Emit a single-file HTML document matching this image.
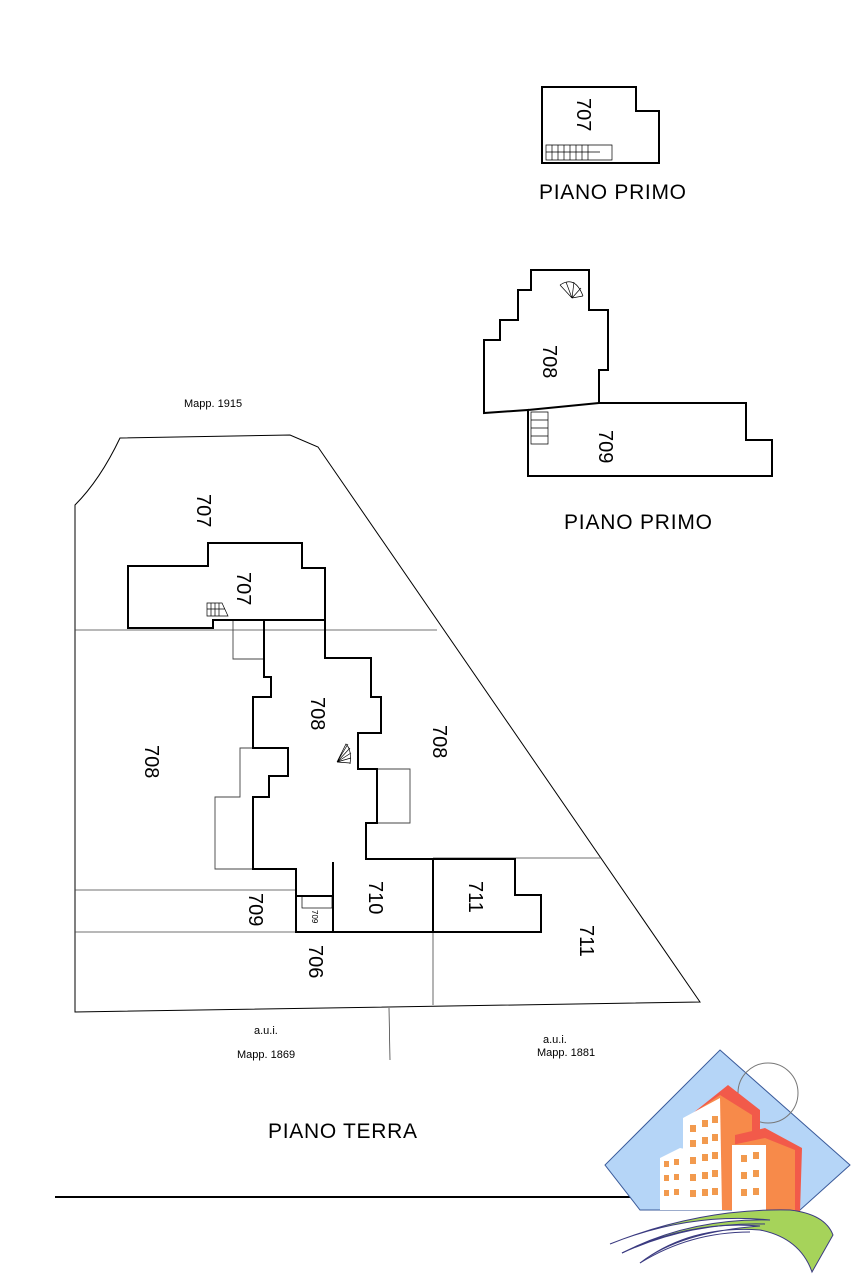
<!DOCTYPE html>
<html><head><meta charset="utf-8"><style>
html,body{margin:0;padding:0;background:#fff}
svg{display:block}
text{font-family:"Liberation Sans",Arial,sans-serif;fill:#000}
</style></head><body>
<svg width="853" height="1280" viewBox="0 0 853 1280" xmlns="http://www.w3.org/2000/svg">
<g fill="none" stroke="#000">
<path d="M75,1012 L75,505 Q100,480 120,438 L290,435 L318,447 L700,1002 Z" stroke-width="1"/>
<path d="M75,630 L437,630 M433,858 L601,858 M75,890 L296,890 M75,932 L296,932 M433,932 L433,1005 M389,1008 L390,1060" stroke-width="0.8" stroke="#444"/>
<path d="M233,620 L233,659 L264,659 M264,748 L240,748 L240,797 L215,797 L215,869 L253,869 M377,769 L410,769 L410,823 L377,823" stroke-width="0.9" stroke="#444"/>
<path d="M128,628 L128,566 L208,566 L208,543 L302,543 L302,568 L325,568 L325,620 L213,620 L213,628 Z" stroke-width="2"/>
<path d="M264,620 L264,677 L271,677 L271,697 L253,697 L253,748 L288,748 L288,776 L269,776 L269,797 L253,797 L253,869 L296,869 L296,932 L433,932 M325,620 L325,658 L371,658 L371,697 L381,697 L381,733 L358,733 L358,769 L377,769 L377,823 L366,823 L366,859 L515,859 L515,895 L541,895 L541,932 L433,932 M333,862 L333,932 M433,859 L433,932 M296,896 L333,896" stroke-width="2"/>
<rect x="302" y="896" width="30" height="12" stroke-width="0.7"/>
<path d="M207,603 L222,603 L228,616 L207,616 Z M211,603 L211,616 M215,603 L215,616 M219,603 L219,616 M207,609 L225,609" stroke-width="0.7"/>
<path d="M337,762 L348,744 M337,762 L350,748 M337,762 L351,753 M337,762 L351,758 M337,762 L350,763 M337,762 L346,744 Q352,750 350,764" stroke-width="0.7"/>
<path d="M542,87 L636,87 L636,111 L659,111 L659,163 L542,163 Z" stroke-width="2"/>
<path d="M546,145 L612,145 L612,160 L546,160 Z M552,145 L552,160 M558,145 L558,160 M564,145 L564,160 M570,145 L570,160 M576,145 L576,160 M582,145 L582,160 M588,145 L588,160 M546,152 L600,152" stroke-width="0.7"/>
<path d="M531,270 L589,270 L589,310 L608,310 L608,370 L599,370 L599,403 L746,403 L746,440 L772,440 L772,476 L528,476 L528,410 L484,413 L484,340 L500,340 L500,320 L518,320 L518,290 L531,290 Z M528,410 L599,403" stroke-width="2"/>
<path d="M531,412 L548,412 L548,444 L531,444 Z M531,420 L548,420 M531,428 L548,428 M531,436 L548,436" stroke-width="0.7"/>
<path d="M572,298 L560,285 M572,298 L566,282 M572,298 L574,282 M572,298 L581,288 M572,298 L583,296 M560,285 Q575,275 583,296" stroke-width="0.7"/>
<path d="M55,1197 L795,1197" stroke-width="2"/>
</g>
<!-- logo -->
<polygon points="720,1050 850,1165 800,1210 640,1210 605,1165" fill="#b5d5f7" stroke="#3a5a9a" stroke-width="1"/>
<circle cx="768" cy="1093" r="30" fill="none" stroke="#777" stroke-width="1"/>
<polygon points="693,1113 728,1085 760,1110 760,1210 693,1210" fill="#f25a4a"/>
<polygon points="686,1118 720,1095 752,1115 752,1210 686,1210" fill="#f78a4a"/>
<polygon points="683,1118 720,1098 722,1210 683,1210" fill="#fff"/>
<polygon points="735,1135 765,1128 802,1148 800,1212 735,1212" fill="#f25a4a"/>
<polygon points="732,1145 765,1138 795,1150 795,1212 732,1212" fill="#f78a4a"/>
<rect x="732" y="1145" width="34" height="67" fill="#fff"/>
<polygon points="660,1158 680,1148 690,1150 690,1210 660,1210" fill="#fff"/>
<g fill="#f29a4e">
<rect x="690" y="1125" width="6" height="7"/><rect x="702" y="1120" width="6" height="7"/><rect x="712" y="1116" width="6" height="7"/>
<rect x="690" y="1140" width="6" height="7"/><rect x="702" y="1137" width="6" height="7"/><rect x="712" y="1134" width="6" height="7"/>
<rect x="690" y="1157" width="6" height="7"/><rect x="702" y="1154" width="6" height="7"/><rect x="712" y="1152" width="6" height="7"/>
<rect x="690" y="1174" width="6" height="7"/><rect x="702" y="1172" width="6" height="7"/><rect x="712" y="1170" width="6" height="7"/>
<rect x="690" y="1190" width="6" height="7"/><rect x="702" y="1189" width="6" height="7"/><rect x="712" y="1188" width="6" height="7"/>
<rect x="741" y="1155" width="6" height="7"/><rect x="753" y="1152" width="6" height="7"/>
<rect x="741" y="1172" width="6" height="7"/><rect x="753" y="1170" width="6" height="7"/>
<rect x="741" y="1189" width="6" height="7"/><rect x="753" y="1188" width="6" height="7"/>
<rect x="664" y="1161" width="5" height="6"/><rect x="674" y="1159" width="5" height="6"/>
<rect x="664" y="1175" width="5" height="6"/><rect x="674" y="1174" width="5" height="6"/>
<rect x="664" y="1190" width="5" height="6"/><rect x="674" y="1189" width="5" height="6"/>
</g>
<g stroke="#3a3a80" stroke-width="1" fill="#a6d35a">
<path d="M610,1244 Q700,1208 790,1210 Q825,1214 833,1235 L812,1272 Q800,1238 760,1230 Q690,1225 640,1263 Q680,1232 760,1226 Q690,1220 622,1253 Q690,1218 770,1220 Q690,1212 610,1244 Z"/>
</g>
<g stroke="#3a3a80" stroke-width="1" fill="none">
<path d="M622,1253 Q690,1222 765,1224"/>
<path d="M640,1263 Q690,1232 750,1232"/>
</g>
<g font-size="21">
<text x="539" y="199" textLength="147">PIANO PRIMO</text>
<text x="564" y="529" textLength="148">PIANO PRIMO</text>
<text x="268" y="1138" textLength="149">PIANO TERRA</text>
</g>
<g font-size="11" fill="#000">
<text x="184" y="407">Mapp. 1915</text>
<text x="254" y="1034">a.u.i.</text>
<text x="237" y="1058">Mapp. 1869</text>
<text x="543" y="1043">a.u.i.</text>
<text x="537" y="1056">Mapp. 1881</text>
</g>
<g font-size="20">
<text transform="translate(577,98) rotate(90)">707</text>
<text transform="translate(543,345) rotate(90)">708</text>
<text transform="translate(599,430) rotate(90)">709</text>
<text transform="translate(197,494) rotate(90)">707</text>
<text transform="translate(237,572) rotate(90)">707</text>
<text transform="translate(311,697) rotate(90)">708</text>
<text transform="translate(145,745) rotate(90)">708</text>
<text transform="translate(433,725) rotate(90)">708</text>
<text transform="translate(249,893) rotate(90)">709</text>
<text transform="translate(369,881) rotate(90)">710</text>
<text transform="translate(469,881) rotate(90)">711</text>
<text transform="translate(580,925) rotate(90)">711</text>
<text transform="translate(309,945) rotate(90)">706</text>
</g>
<text transform="translate(312,910) rotate(90)" font-size="8" fill="#555">709</text>
</svg>
</body></html>
